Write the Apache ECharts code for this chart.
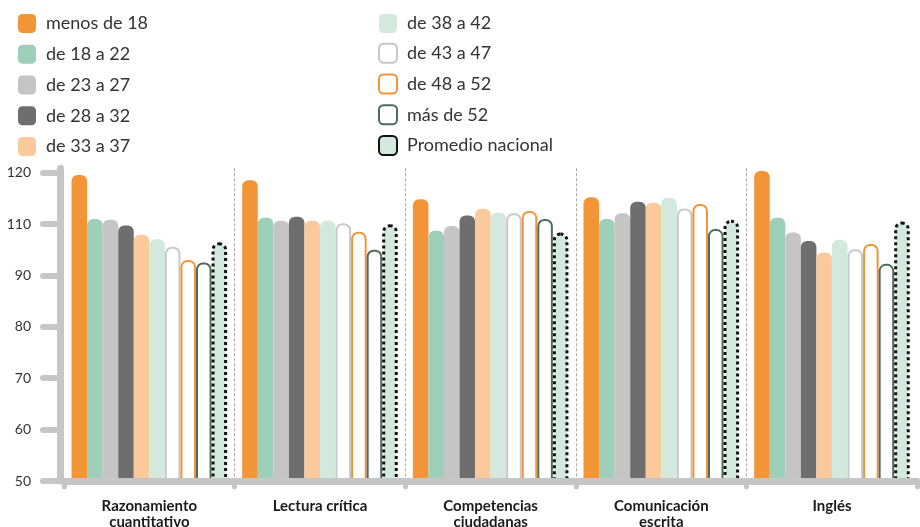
<!DOCTYPE html>
<html>
<head>
<meta charset="utf-8">
<script src="https://cdn.jsdelivr.net/npm/echarts@6/dist/echarts.min.js"></script>
<style>
html,body{margin:0;padding:0;background:#fff;}
#chart{width:920px;height:527px;}
</style>
</head>
<body>
<div id="chart"></div>
<script>
// ---- Data ----
const categories = ['Razonamiento\ncuantitativo', 'Lectura crítica', 'Competencias\nciudadanas', 'Comunicación\nescrita', 'Inglés'];
const seriesNames = ['menos de 18', 'de 18 a 22', 'de 23 a 27', 'de 28 a 32', 'de 33 a 37', 'de 38 a 42', 'de 43 a 47', 'de 48 a 52', 'más de 52', 'Promedio nacional'];
const menos18   = [119.5, 118.3, 114.0, 114.4, 120.4];
const de18a22   = [109.5, 109.8, 106.8, 109.5, 109.8];
const de23a27   = [109.3, 109.1, 107.9, 110.8, 106.4];
const de28a32   = [108.0, 110.0, 110.3, 113.4, 104.5];
const de33a37   = [105.9, 109.1, 111.8, 113.2, 101.9];
const de38a42   = [104.9, 109.1, 110.9, 114.3, 104.8];
const de43a47   = [103.2, 108.5, 110.8, 111.9, 102.6];
const de48a52   = [100.2, 106.6, 111.3, 112.9, 103.8];
const mas52     = [99.6, 102.5, 109.5, 107.2, 99.3];
const promedio  = [104.2, 108.3, 106.4, 109.3, 108.9];
const yMin = 50, yMax = 121;
const yTickLabels = ['50', '60', '70', '80', '90', '110', '120'];
const yTickTop = 120;

// ---- Styles ----
const seriesValues = [menos18, de18a22, de23a27, de28a32, de33a37, de38a42, de43a47, de48a52, mas52, promedio];
const styles = [
  {color: '#f39436'},
  {color: '#9ecfb8'},
  {color: '#c5c5c5'},
  {color: '#6e6e6e'},
  {color: '#fbca9c'},
  {color: '#d3e9de'},
  {color: '#ffffff', borderColor: '#c8c8c8', borderWidth: 2},
  {color: '#ffffff', borderColor: '#f39436', borderWidth: 2},
  {color: '#ffffff', borderColor: '#4f6b5d', borderWidth: 2},
  {color: '#d3e9de', borderColor: '#111111', borderWidth: 3, borderType: 'dotted'}
];
const tickStep = (yTickTop - yMin) / (yTickLabels.length - 1);
const tickValues = yTickLabels.map((_, i) => yMin + i * tickStep);

const series = seriesNames.map((name, i) => ({
  name: name,
  type: 'bar',
  data: seriesValues[i],
  barGap: '0%',
  barCategoryGap: '8.85%',
  itemStyle: Object.assign({borderRadius: [6, 6, 0, 0]}, styles[i])
}));

const legendText = {fontFamily: 'Lato', fontSize: 18, color: '#333', padding: [0, 0, 0, 5], lineHeight: 19};
const chart = echarts.init(document.getElementById('chart'), null, {renderer: 'canvas'});
chart.setOption({
  animation: false,
  backgroundColor: '#ffffff',
  textStyle: {fontFamily: 'Lato'},
  legend: [
    {data: seriesNames.slice(0, 5), orient: 'vertical', left: 18, top: 14, padding: 0,
     itemWidth: 18, itemHeight: 19, itemGap: 11.75, icon: 'roundRect', textStyle: legendText, selectedMode: false},
    {data: seriesNames.slice(5), orient: 'vertical', left: 378, top: 14, padding: 0,
     itemWidth: 18, itemHeight: 19, itemGap: 9.75, icon: 'roundRect', textStyle: legendText, selectedMode: false}
  ],
  grid: {left: 64, right: 2.7, top: 168.3, bottom: 46, containLabel: false, outerBoundsMode: 'none'},
  xAxis: {
    type: 'category',
    data: categories,
    z: 5,
    axisLine: {lineStyle: {color: '#c6c6c6', width: 7, cap: 'round'}},
    axisTick: {show: true, interval: 0, length: 6, lineStyle: {color: '#c6c6c6', width: 5, cap: 'round'}},
    axisLabel: {interval: 0, margin: 17, fontFamily: 'Lato', fontWeight: 'bold', fontSize: 15, lineHeight: 16, color: '#1a1a1a'},
    splitLine: {show: true, interval: 0, showMinLine: false, showMaxLine: false,
      lineStyle: {color: '#a8a8a8', width: 1, type: [3, 2]}}
  },
  yAxis: {
    type: 'value',
    min: yMin,
    max: yMax,
    offset: 4,
    z: 5,
    axisLine: {show: true, lineStyle: {color: '#c6c6c6', width: 7, cap: 'round'}},
    axisTick: {show: true, length: 17, customValues: tickValues, lineStyle: {color: '#c6c6c6', width: 6, cap: 'round'}},
    axisLabel: {margin: 29, customValues: tickValues, fontFamily: 'Lato', fontSize: 14, color: '#333',
      formatter: v => yTickLabels[Math.round((v - yMin) / tickStep)]},
    splitLine: {show: false}
  },
  series: series
});
</script>
</body>
</html>
